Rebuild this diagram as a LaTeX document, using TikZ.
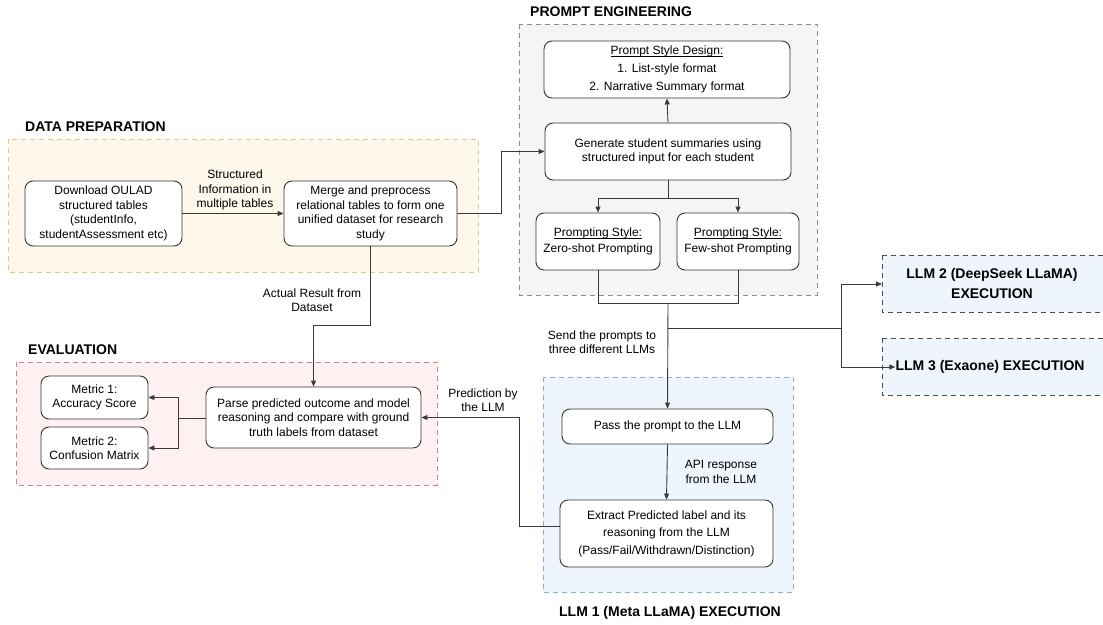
\documentclass[tikz,border=0pt]{standalone}
\usepackage{fontspec}
\setmainfont{Liberation Sans}
\usetikzlibrary{arrows.meta}

\definecolor{prepfill}{HTML}{FDF8EB}
\definecolor{prepline}{HTML}{E3C77A}
\definecolor{engfill}{HTML}{F5F5F5}
\definecolor{engline}{HTML}{8C8C8C}
\definecolor{evalfill}{HTML}{FFF1F1}
\definecolor{evalline}{HTML}{D98080}
\definecolor{llmfill}{HTML}{EFF5FC}
\definecolor{llmline}{HTML}{8AAEDD}
\definecolor{wire}{HTML}{3A3A3A}

% underlined heading inside a step box
\newsavebox{\titlebox}
\newcommand{\steptitle}[1]{\sbox{\titlebox}{#1}\rlap{\rule[-2pt]{\wd\titlebox}{0.6pt}}\usebox{\titlebox}}

\tikzset{
  stepbox/.style={draw=black!80, line width=0.9pt, rounded corners=8pt, fill=white,
    align=center, inner sep=2pt, font=\fontsize{12}{14.5}\selectfont},
  groupbox/.style={dashed, dash pattern=on 5pt off 4pt, line width=0.9pt},
  grouptitle/.style={font=\fontsize{14}{16}\selectfont\bfseries, inner sep=0pt},
  wirelabel/.style={font=\fontsize{12}{14.5}\selectfont, align=center, inner sep=1pt},
  flow/.style={draw=wire, line width=0.9pt, -{Triangle[length=6pt,width=5pt]}},
  plain/.style={draw=wire, line width=0.9pt},
}

\begin{document}
\begin{tikzpicture}[x=1pt, y=-1pt]
\useasboundingbox (0,0) rectangle (1103,624);

% ---- group frames ----
\draw[groupbox, draw=prepline, fill=prepfill] (8,139) rectangle (478,272);
\draw[groupbox, draw=engline, fill=engfill] (519,24) rectangle (817,295);
\draw[groupbox, draw=evalline, fill=evalfill] (16,362) rectangle (437,485);
\draw[groupbox, draw=llmline, fill=llmfill] (543,377) rectangle (793,592);
\begin{scope}
  \clip (0,0) rectangle (1103,624);
  \draw[groupbox, draw=black!70, fill=llmfill] (882,255) rectangle (1120,312);
  \draw[groupbox, draw=black!70, fill=llmfill] (882,338) rectangle (1120,395);
\end{scope}

% ---- group titles ----
\node[grouptitle, anchor=west] (tprep) at (25,127) {DATA PREPARATION};
\node[grouptitle, anchor=west] (teng) at (530,12) {PROMPT ENGINEERING};
\node[grouptitle, anchor=west] (teval) at (28,350) {EVALUATION};
\node[grouptitle] (tllm1) at (670,613) {LLM 1 (Meta LLaMA) EXECUTION};
\node[grouptitle, align=center, font=\fontsize{14}{20}\selectfont\bfseries] (tllm2) at (992,283) {LLM 2 (DeepSeek LLaMA)\\EXECUTION};
\node[grouptitle] (tllm3) at (990,367) {LLM 3 (Exaone) EXECUTION};

% ---- process steps ----
\node[stepbox, minimum width=157pt, minimum height=65pt] (dl) at (103.5,213.5)
  {Download OULAD\\structured tables\\(studentInfo,\\studentAssessment etc)};
\node[stepbox, minimum width=173pt, minimum height=65pt] (merge) at (370.5,213.5)
  {Merge and preprocess\\relational tables to form one\\unified dataset for research\\study};
\node[stepbox, minimum width=246pt, minimum height=57pt, font=\fontsize{12}{18}\selectfont] (psd) at (667,69.5)
  {\steptitle{Prompt Style Design:}\\1. List-style format\\2. Narrative Summary format};
\node[stepbox, minimum width=246pt, minimum height=57pt] (gen) at (668,151.5)
  {Generate student summaries using\\structured input for each student};
\node[stepbox, minimum width=124pt, minimum height=57pt, font=\fontsize{12}{16.5}\selectfont] (zero) at (598,241.5)
  {\steptitle{Prompting Style:}\\Zero-shot Prompting};
\node[stepbox, minimum width=122pt, minimum height=57pt, font=\fontsize{12}{16.5}\selectfont] (few) at (738,241.5)
  {\steptitle{Prompting Style:}\\Few-shot Prompting};
\node[stepbox, minimum width=211pt, minimum height=35pt] (pass) at (667.5,426.5)
  {Pass the prompt to the LLM};
\node[stepbox, minimum width=213pt, minimum height=67pt, font=\fontsize{12}{17.5}\selectfont] (extract) at (666.5,533.5)
  {Extract Predicted label and its\\reasoning from the LLM\\(Pass/Fail/Withdrawn/Distinction)};
\node[stepbox, minimum width=215pt, minimum height=61pt] (parse) at (313.5,417.5)
  {Parse predicted outcome and model\\reasoning and compare with ground\\truth labels from dataset};
\node[stepbox, minimum width=107pt, minimum height=43pt] (m1) at (94.5,397.5)
  {Metric 1:\\Accuracy Score};
\node[stepbox, minimum width=107pt, minimum height=42pt] (m2) at (94.5,448)
  {Metric 2:\\Confusion Matrix};

% ---- junction points ----
\coordinate (jmerge) at (501,213.5);
\coordinate (jsplit) at (668,198);
\coordinate (jjoin) at (668,303);
\coordinate (jfan) at (668,328);
\coordinate (jllm) at (841,328);
\coordinate (jactual) at (370.5,325);
\coordinate (jmetric) at (178,418);
\coordinate (jback) at (519,526);

% ---- connectors ----
\draw[flow] (dl.east) -- (merge.west);
\node[wirelabel] (lstruct) at (235,190) {Structured\\Information in\\multiple tables};

\draw[flow] (merge.east) -- (jmerge) |- (gen.west);
\draw[flow] (gen.north) -- (psd.south);

\draw[plain] (gen.south) -- (jsplit);
\draw[flow] (jsplit) -| (zero.north);
\draw[flow] (jsplit) -| (few.north);

\draw[plain] (zero.south) |- (jjoin);
\draw[plain] (few.south) |- (jjoin);
\draw[flow] (jjoin) -- (pass.north);
\node[wirelabel] (lsend) at (602,342) {Send the prompts to\\three different LLMs};

\draw[plain] (jfan) -- (jllm);
\draw[flow] (jllm) |- (882,284);
\draw[flow] (jllm) |- (tllm3.west);

\draw[flow] (pass.south) -- (extract.north);
\node[wirelabel] (lapi) at (721,472) {API response\\from the LLM};

\draw[flow] (extract.west |- jback) -- (jback) |- (parse.east);
\node[wirelabel] (lpred) at (483,400) {Prediction by\\the LLM};

\draw[flow] (merge.south) -- (jactual) -| (parse.north);
\node[wirelabel] (lactual) at (312,300) {Actual Result from\\Dataset};

\draw[plain] (parse.west |- jmetric) -- (jmetric);
\draw[flow] (jmetric) |- (m1.east);
\draw[flow] (jmetric) |- (m2.east);
\end{tikzpicture}
\end{document}
